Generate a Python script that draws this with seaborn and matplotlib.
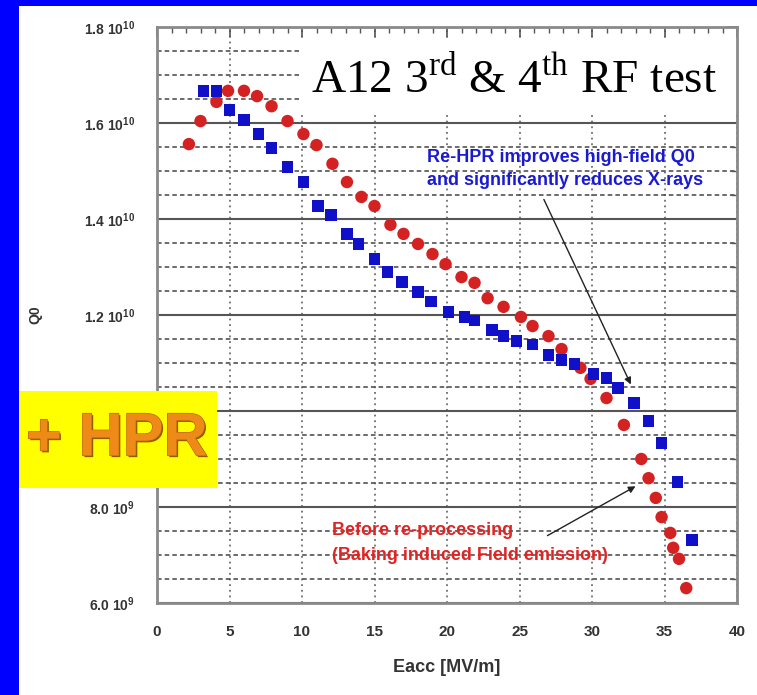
import matplotlib
matplotlib.use("Agg")
import matplotlib.pyplot as plt
import matplotlib.patheffects as pe
from matplotlib.patches import Rectangle
from matplotlib.ticker import FixedLocator, MultipleLocator
import numpy as np
import pandas as pd
import seaborn as sns

# After re-HPR (3rd/4th test) -- blue squares
eacc_rehpr = [3.2, 4.1, 5.0, 6.0, 7.0, 7.9, 9.0, 10.1, 11.1, 12.0, 13.1, 13.9,
              15.0, 15.9, 16.9, 18.0, 18.9, 20.1, 21.2, 21.9, 23.1, 23.9, 24.8,
              25.9, 27.0, 27.9, 28.8, 30.1, 31.0, 31.8, 32.9, 33.9, 34.8, 35.9, 36.9]
q0_rehpr = [1.667e10, 1.667e10, 1.627e10, 1.606e10, 1.577e10, 1.548e10, 1.508e10,
            1.477e10, 1.427e10, 1.408e10, 1.369e10, 1.348e10, 1.317e10, 1.290e10,
            1.269e10, 1.248e10, 1.228e10, 1.206e10, 1.196e10, 1.188e10, 1.169e10,
            1.156e10, 1.146e10, 1.138e10, 1.117e10, 1.106e10, 1.098e10, 1.077e10,
            1.069e10, 1.048e10, 1.017e10, 9.79e9, 9.33e9, 8.52e9, 7.31e9]

# Before re-processing (baking induced field emission) -- red circles
eacc_before = [2.2, 3.0, 4.1, 4.9, 6.0, 6.9, 7.9, 9.0, 10.1, 11.0, 12.1, 13.1,
               14.1, 15.0, 16.1, 17.0, 18.0, 19.0, 19.9, 21.0, 21.9, 22.8, 23.9,
               25.1, 25.9, 27.0, 27.9, 29.2, 29.9, 31.0, 32.2, 33.4, 33.9, 34.4,
               34.8, 35.4, 35.6, 36.0, 36.5]
q0_before = [1.556e10, 1.604e10, 1.644e10, 1.667e10, 1.667e10, 1.656e10, 1.635e10,
             1.604e10, 1.577e10, 1.554e10, 1.515e10, 1.477e10, 1.446e10, 1.427e10,
             1.388e10, 1.369e10, 1.348e10, 1.327e10, 1.306e10, 1.279e10, 1.267e10,
             1.235e10, 1.217e10, 1.196e10, 1.177e10, 1.156e10, 1.129e10, 1.090e10,
             1.067e10, 1.027e10, 9.71e9, 9.00e9, 8.60e9, 8.19e9, 7.79e9, 7.46e9,
             7.15e9, 6.92e9, 6.31e9]

x_ticks = [0, 5, 10, 15, 20, 25, 30, 35, 40]
y_ticks = [6.0e9, 8.0e9, 1.0e10, 1.2e10, 1.4e10, 1.6e10, 1.8e10]
# the 1.0e10 label sits under the "+ HPR" box, so it is left blank
y_tick_labels = [r"6.0 10$^{\mathsf{9}}$", r"8.0 10$^{\mathsf{9}}$", "",
                 r"1.2 10$^{\mathsf{10}}$", r"1.4 10$^{\mathsf{10}}$",
                 r"1.6 10$^{\mathsf{10}}$", r"1.8 10$^{\mathsf{10}}$"]

sns.set_style("white")
plt.rcParams["font.family"] = ["Liberation Sans", "DejaVu Sans"]
plt.rcParams["mathtext.fontset"] = "custom"
plt.rcParams["mathtext.rm"] = "Liberation Serif"
plt.rcParams["mathtext.sf"] = "Liberation Sans:bold"

W, H = 757, 695
fig = plt.figure(figsize=(W / 100, H / 100), dpi=100, facecolor="white")

# blue frame strips on the left and top
fig.add_artist(Rectangle((0, 0), 19 / W, 1, transform=fig.transFigure,
                         facecolor="#0000FF", edgecolor="none", zorder=0))
fig.add_artist(Rectangle((0, 1 - 6 / H), 1, 6 / H, transform=fig.transFigure,
                         facecolor="#0000FF", edgecolor="none", zorder=0))

ax_l, ax_r, ax_t, ax_b = 157, 737, 27, 603
ax = fig.add_axes([ax_l / W, 1 - ax_b / H, (ax_r - ax_l) / W, (ax_b - ax_t) / H])

df_rehpr = pd.DataFrame({"Eacc": eacc_rehpr, "Q0": q0_rehpr})
df_before = pd.DataFrame({"Eacc": eacc_before, "Q0": q0_before})

sns.scatterplot(data=df_before, x="Eacc", y="Q0", ax=ax, marker="o", s=80,
                color="#D42222", edgecolor="none", zorder=4)
sns.scatterplot(data=df_rehpr, x="Eacc", y="Q0", ax=ax, marker="s", s=68,
                color="#1010C8", edgecolor="none", zorder=5)

ax.set_xlim(0, 40)
ax.set_ylim(6e9, 1.8e10)
ax.xaxis.set_major_locator(FixedLocator(x_ticks))
ax.xaxis.set_minor_locator(MultipleLocator(1))
ax.yaxis.set_major_locator(FixedLocator(y_ticks))
ax.yaxis.set_minor_locator(MultipleLocator(0.5e9))
ax.set_xticklabels([str(t) for t in x_ticks])
ax.set_yticklabels(y_tick_labels)

ax.set_axisbelow(True)
ax.grid(True, which="major", axis="y", color="#555555", lw=1.5, ls="-")
ax.grid(True, which="minor", axis="y", color="#444444", lw=1.1, ls=(0, (3, 2)))
ax.grid(True, which="major", axis="x", color="#555555", lw=1.1, ls=(0, (1.2, 2.5)))

ax.tick_params(which="both", direction="in", top=True, right=True,
               colors="#555555", labelcolor="#333333")
ax.tick_params(which="major", length=7, width=1.2)
ax.tick_params(which="minor", length=4, width=1.0)
ax.tick_params(axis="y", which="major", pad=16, labelsize=10)
ax.tick_params(axis="x", which="major", pad=16, labelsize=11)
for lab in ax.get_xticklabels() + ax.get_yticklabels():
    lab.set_fontweight("bold")

for sp in ax.spines.values():
    sp.set_color("#8a8a8a")
    sp.set_linewidth(2)
    sp.set_zorder(6)

ax.set_xlabel("Eacc [MV/m]", fontsize=13, fontweight="bold", color="#333333",
              labelpad=14)
ax.set_ylabel("Q0", fontsize=10, fontweight="bold", color="#333333", labelpad=30)

# heading box
ax.add_patch(Rectangle((9.8, 1.62e10), 30.2, 0.155e10, facecolor="white",
                       edgecolor="none", zorder=3))
ax.text(10.6, 1.6625e10, r"A12 3$^{\mathrm{rd}}$ & 4$^{\mathrm{th}}$ RF test",
        fontsize=34, family="Liberation Serif", color="black", va="baseline",
        ha="left", zorder=7)

# annotations
blue_txt = "#1a1ad2"
red_txt = "#e02424"
ax.text(18.6, 1.529e10, "Re-HPR improves high-field Q0", color=blue_txt,
        fontsize=13, fontweight="bold", va="center", ha="left", zorder=7)
ax.text(18.6, 1.481e10, "and significantly reduces X-rays", color=blue_txt,
        fontsize=13, fontweight="bold", va="center", ha="left", zorder=7)
ax.annotate("", xy=(32.76, 1.05e10), xytext=(26.6, 1.446e10),
            arrowprops=dict(arrowstyle="-|>", color="#222222", lw=1.0,
                            mutation_scale=10), zorder=7)

ax.text(12.1, 7.52e9, "Before re-processing", color=red_txt, fontsize=13,
        fontweight="bold", va="center", ha="left", zorder=7)
ax.text(12.1, 7.0e9, "(Baking induced Field emission)", color=red_txt,
        fontsize=13, fontweight="bold", va="center", ha="left", zorder=7)
ax.annotate("", xy=(33.17, 8.46e9), xytext=(26.76, 7.375e9),
            arrowprops=dict(arrowstyle="-|>", color="#222222", lw=1.0,
                            mutation_scale=10), zorder=7)

# "+ HPR" label box
fig.add_artist(Rectangle((19 / W, 1 - 488 / H), (217 - 19) / W, (488 - 391) / H,
                         transform=fig.transFigure, facecolor="#FFFF00",
                         edgecolor="none", zorder=10))
fig.text(117 / W, 1 - 440 / H, "+ HPR", fontsize=44, fontweight="bold",
         color="#EE8A18", ha="center", va="center", zorder=11,
         path_effects=[pe.withSimplePatchShadow(offset=(1.2, -1.2),
                                                shadow_rgbFace="#8a4a00", alpha=0.9),
                       pe.Stroke(linewidth=0.8, foreground="#b86000"),
                       pe.Normal()])

fig.savefig("out.png", dpi=100, facecolor=fig.get_facecolor())
